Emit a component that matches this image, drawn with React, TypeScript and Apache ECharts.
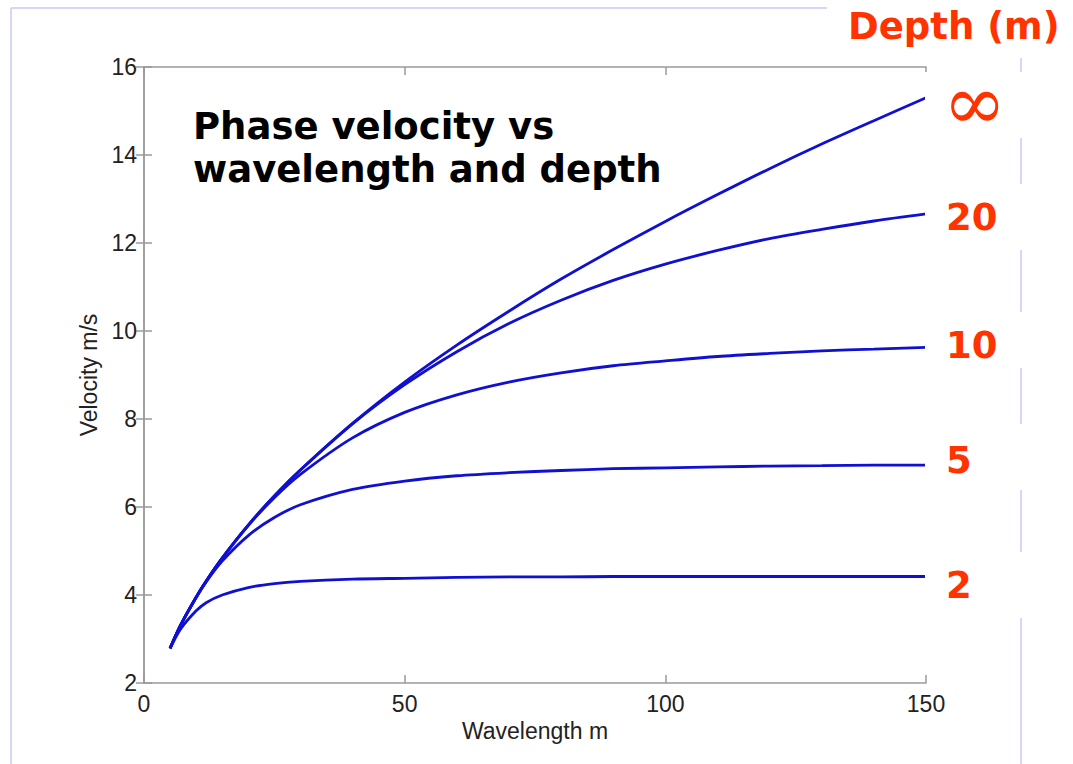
import React, { useEffect, useRef } from "react";
import * as echarts from "echarts";

// Wavelength (m) sample positions
const wavelengths = [5, 7, 10, 12, 15, 20, 25, 30, 40, 50, 60, 70, 80, 90, 100, 110, 120, 130, 140, 150];

// Phase velocity (m/s), one array per water depth
const velDeep = [2.79, 3.31, 3.95, 4.33, 4.84, 5.59, 6.25, 6.84, 7.9, 8.84, 9.68, 10.45, 11.18, 11.85, 12.49, 13.1, 13.69, 14.25, 14.78, 15.3];
const vel20 = [2.79, 3.31, 3.95, 4.33, 4.84, 5.59, 6.25, 6.84, 7.89, 8.78, 9.53, 10.17, 10.7, 11.15, 11.52, 11.83, 12.1, 12.31, 12.5, 12.66];
const vel10 = [2.79, 3.31, 3.95, 4.33, 4.84, 5.58, 6.21, 6.74, 7.57, 8.15, 8.55, 8.84, 9.05, 9.21, 9.32, 9.42, 9.49, 9.55, 9.59, 9.63];
const vel5 = [2.79, 3.31, 3.94, 4.31, 4.77, 5.35, 5.76, 6.05, 6.4, 6.59, 6.71, 6.78, 6.83, 6.87, 6.89, 6.91, 6.93, 6.94, 6.95, 6.95];
const vel2 = [2.78, 3.22, 3.64, 3.83, 4.0, 4.17, 4.26, 4.31, 4.36, 4.38, 4.4, 4.41, 4.41, 4.42, 4.42, 4.42, 4.42, 4.42, 4.42, 4.42];

const depthLabels = ["∞", "20", "10", "5", "2"];
const seriesValues = [velDeep, vel20, vel10, vel5, vel2];

const titleLines = ["Phase velocity vs", "wavelength and depth"];
const legendTitle = "Depth (m)";
const xName = "Wavelength m";
const yName = "Velocity m/s";

const RED = "#ff3300";
const BLUE = "#1010d0";
const AXIS_GREY = "#9a9a9a";
const LAVENDER = "#c8c8f8";

export default function App() {
  const ref = useRef<HTMLDivElement>(null);

  useEffect(() => {
    if (!ref.current) return;
    const chart = echarts.init(ref.current, null, { renderer: "svg" });

    const axisCommon = {
      axisLine: { show: true, lineStyle: { color: AXIS_GREY, width: 1.5 } },
      axisTick: { show: true, inside: true, length: 8, lineStyle: { color: AXIS_GREY, width: 1.5 } },
      splitLine: { show: false },
    };

    const labelBoxes = [
      { y: 72, h: 66, cy: 106 },
      { y: 184, h: 66, cy: 217 },
      { y: 312, h: 56, cy: 345 },
      { y: 424, h: 66, cy: 460 },
      { y: 552, h: 66, cy: 585 },
    ];

    const graphic: any[] = [
      { type: "line", z: 1, shape: { x1: 11, y1: 8, x2: 827, y2: 8 }, style: { stroke: LAVENDER, lineWidth: 1.5 } },
      { type: "line", z: 1, shape: { x1: 11, y1: 8, x2: 11, y2: 764 }, style: { stroke: LAVENDER, lineWidth: 1.5 } },
      { type: "line", z: 1, shape: { x1: 1021, y1: 58, x2: 1021, y2: 764 }, style: { stroke: LAVENDER, lineWidth: 1.5 } },
      { type: "rect", z: 50, shape: { x: 828, y: 0, width: 245, height: 56 }, style: { fill: "#ffffff" } },
      {
        type: "text", z: 60, x: 848, y: 26,
        style: { text: legendTitle, fill: RED, font: 'bold 37px "DejaVu Sans"', align: "left", verticalAlign: "middle" },
      },
      {
        type: "text", z: 60, x: 193, y: 126,
        style: { text: titleLines[0], fill: "#000", font: 'bold 37px "DejaVu Sans"', align: "left", verticalAlign: "middle" },
      },
      {
        type: "text", z: 60, x: 193, y: 169,
        style: { text: titleLines[1], fill: "#000", font: 'bold 37px "DejaVu Sans"', align: "left", verticalAlign: "middle" },
      },
    ];

    labelBoxes.forEach((b, i) => {
      graphic.push({ type: "rect", z: 50, shape: { x: 925, y: b.y, width: 148, height: b.h }, style: { fill: "#ffffff" } });
      const isInf = depthLabels[i] === "∞";
      graphic.push({
        type: "text", z: 60, x: isInf ? 943 : 946, y: isInf ? b.cy - 4 : b.cy,
        style: {
          text: depthLabels[i],
          fill: RED,
          font: isInf ? 'italic 76px "DejaVu Serif"' : 'bold 37px "DejaVu Sans"',
          align: "left",
          verticalAlign: "middle",
        },
      });
    });

    chart.setOption({
      animation: false,
      backgroundColor: "#ffffff",
      grid: { left: 144, right: 147, top: 67, bottom: 81, containLabel: false },
      xAxis: [
        {
          type: "value", min: 0, max: 150, interval: 50, position: "bottom",
          name: xName, nameLocation: "middle", nameGap: 36,
          nameTextStyle: { color: "#222", fontSize: 23, fontFamily: '"Liberation Sans", Arial' },
          axisLabel: { color: "#222", fontSize: 23, fontFamily: '"Liberation Sans", Arial', margin: 9 },
          ...axisCommon,
        },
        {
          type: "value", min: 0, max: 150, interval: 50, position: "top",
          axisLabel: { show: false },
          ...axisCommon,
        },
      ],
      yAxis: [
        {
          type: "value", min: 2, max: 16, interval: 2, position: "left",
          name: yName, nameLocation: "middle", nameGap: 41,
          nameTextStyle: { color: "#222", fontSize: 23, fontFamily: '"Liberation Sans", Arial' },
          axisLabel: { color: "#222", fontSize: 23, fontFamily: '"Liberation Sans", Arial', margin: 7 },
          ...axisCommon,
        },
        {
          type: "value", min: 2, max: 16, interval: 2, position: "right",
          axisLabel: { show: false },
          ...axisCommon,
        },
      ],
      series: seriesValues.map((vals, i) => ({
        name: depthLabels[i],
        type: "line",
        xAxisIndex: 0,
        yAxisIndex: 0,
        data: wavelengths.map((w, j) => [w, vals[j]]),
        smooth: 0.3,
        showSymbol: false,
        lineStyle: { color: BLUE, width: 2.8 },
        z: 5,
      })),
      graphic,
    });

    return () => chart.dispose();
  }, []);

  return (
    <div
      ref={ref}
      style={{ position: "fixed", left: 0, top: 0, width: 1073, height: 764, background: "#fff" }}
    />
  );
}
